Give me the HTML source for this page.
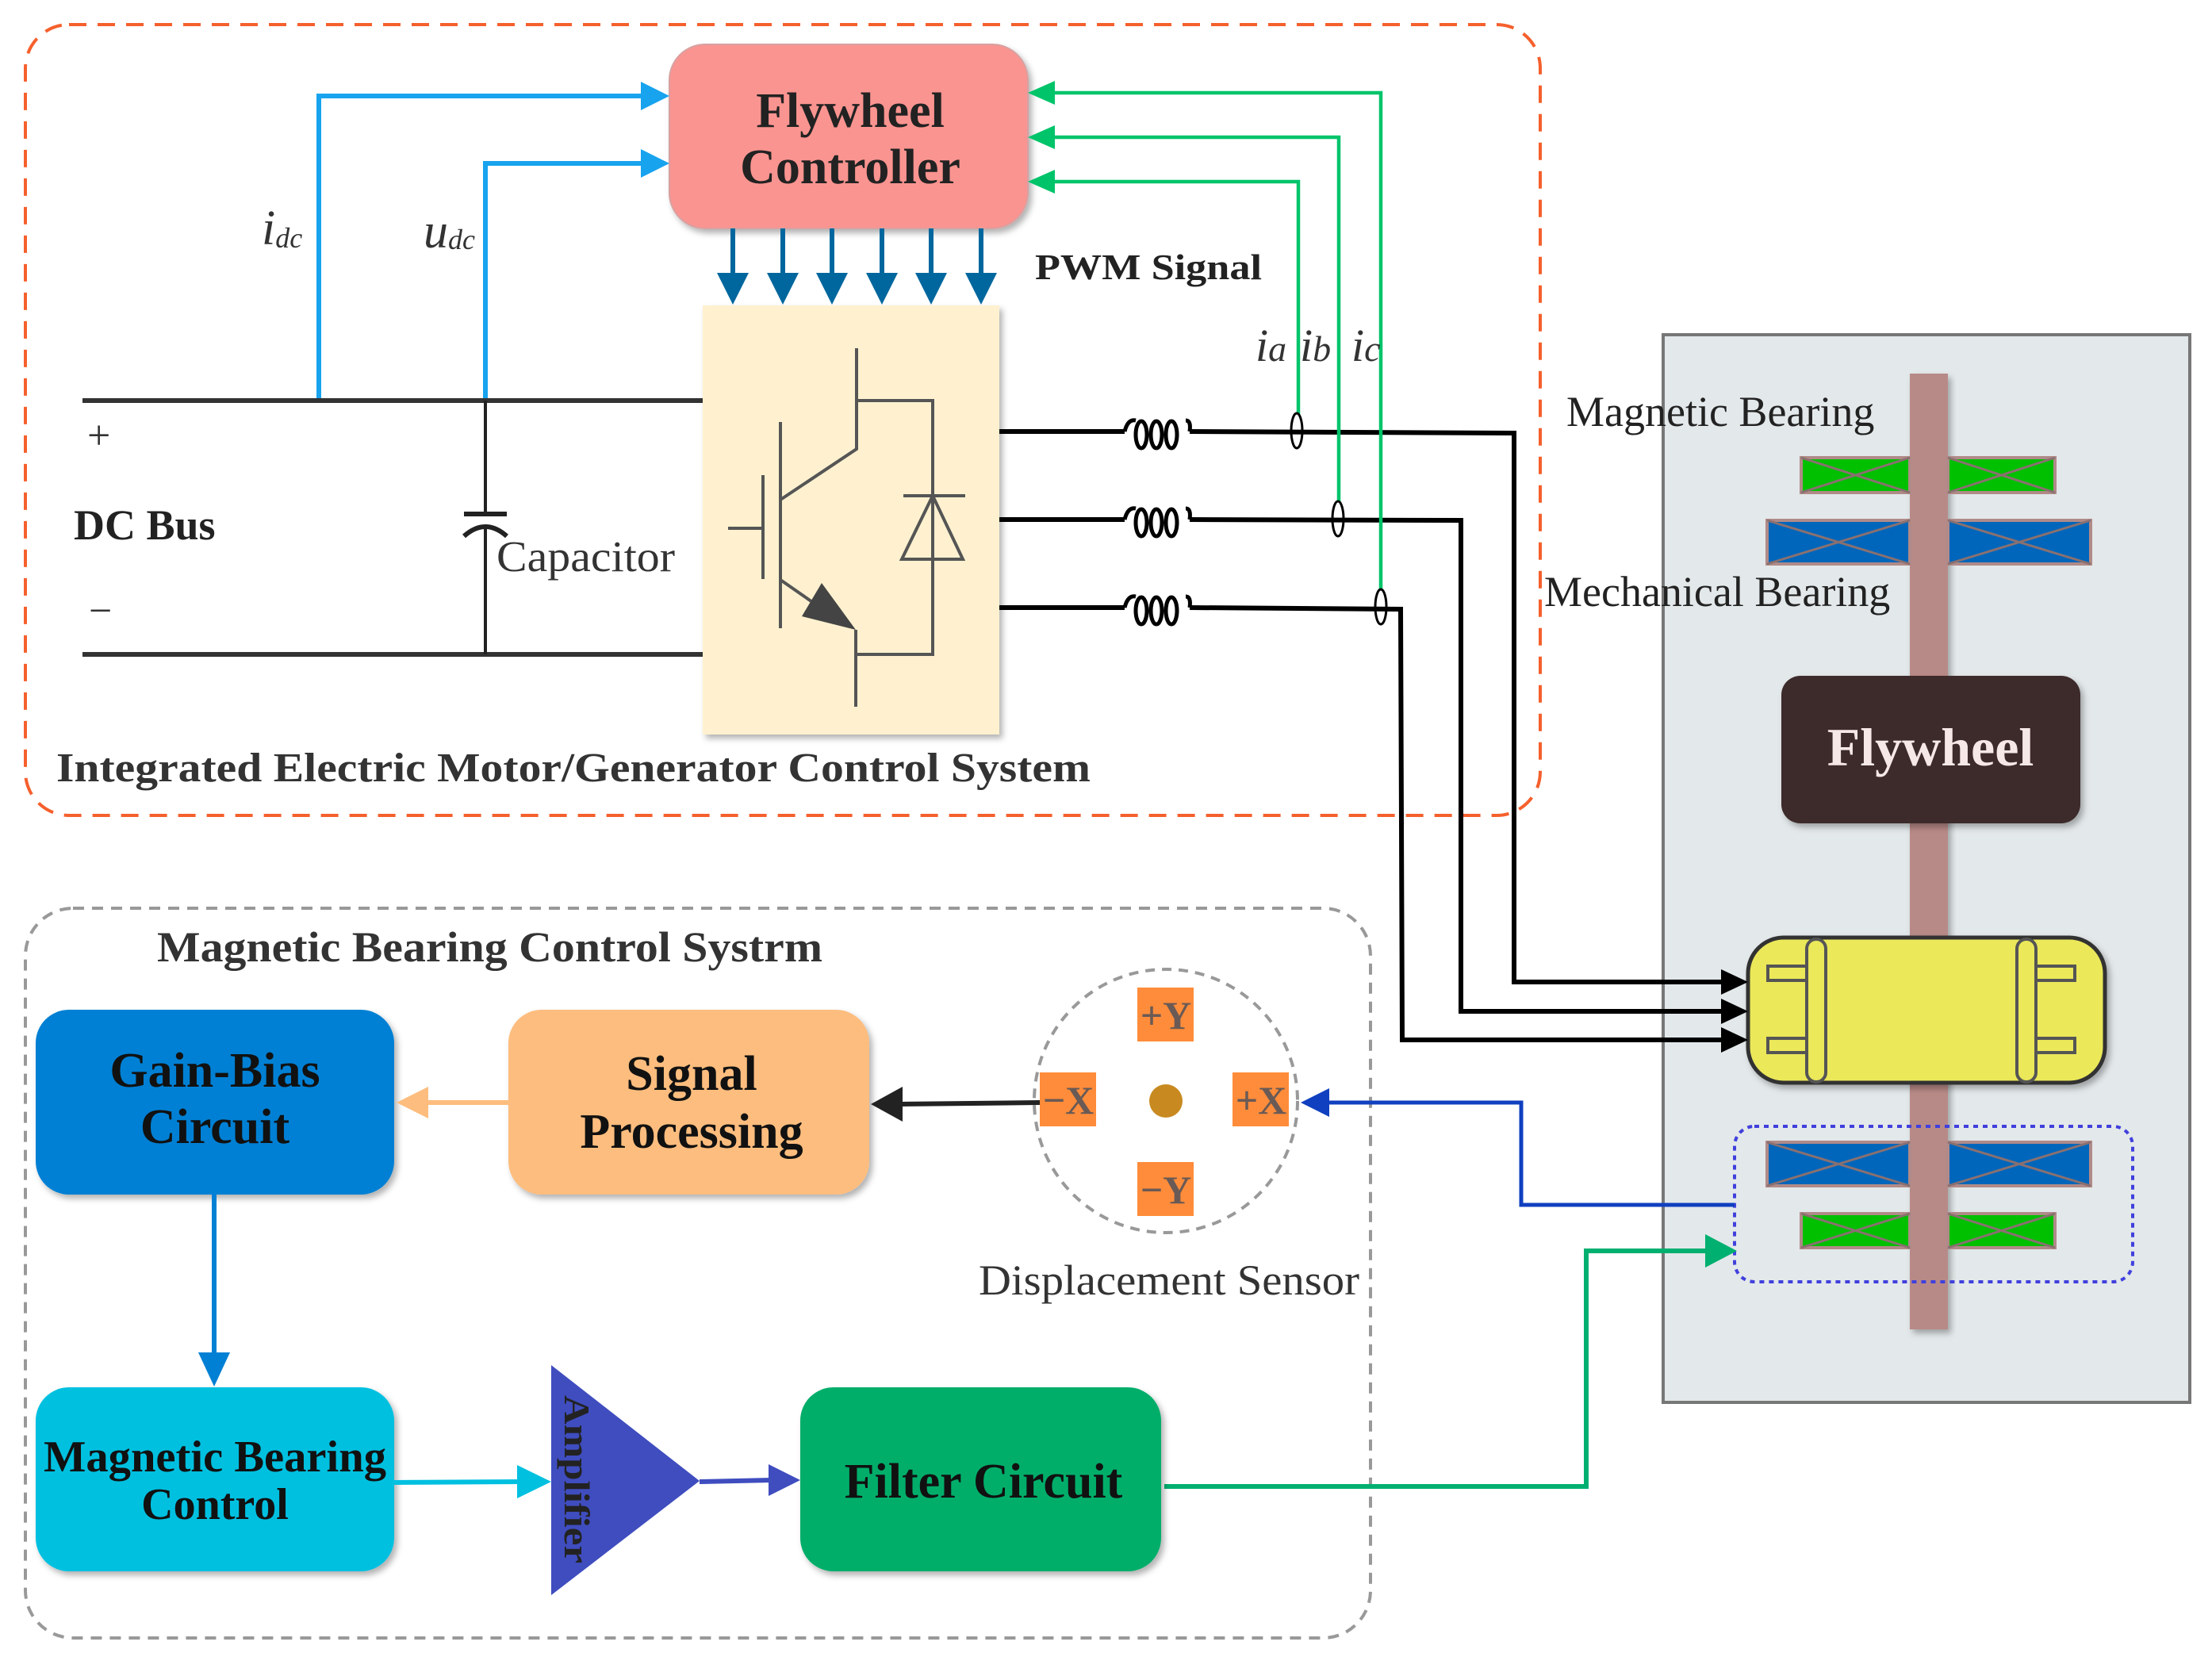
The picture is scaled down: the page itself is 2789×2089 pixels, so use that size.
<!DOCTYPE html>
<html><head><meta charset="utf-8"><style>html,body{margin:0;padding:0;background:#fff}svg{display:block}</style></head><body>
<svg width="2789" height="2089" viewBox="0 0 2789 2089" xmlns="http://www.w3.org/2000/svg" font-family="'Liberation Serif', serif">
<defs>
<filter id="sh" x="-10%" y="-10%" width="130%" height="130%"><feDropShadow dx="4" dy="5" stdDeviation="4" flood-color="#000" flood-opacity="0.3"/></filter>
</defs>
<rect x="32" y="31" width="1910" height="997" rx="55" fill="none" stroke="#f5602d" stroke-width="4" stroke-dasharray="22,14"/>
<rect x="32" y="1145" width="1696" height="920" rx="60" fill="none" stroke="#999" stroke-width="4" stroke-dasharray="14,10"/>

<rect x="844" y="56" width="452" height="232" rx="45" fill="#fa9490" stroke="#d9a0a0" stroke-width="2" filter="url(#sh)"/>
<text x="1072" y="160" font-size="62" font-weight="bold" text-anchor="middle" fill="#222">Flywheel</text>
<text x="1072" y="231" font-size="62" font-weight="bold" text-anchor="middle" fill="#222">Controller</text>

<g stroke="#18a3ee" stroke-width="6" fill="none">
<polyline points="402,505 402,121 812,121"/>
<polyline points="612,505 612,206 812,206"/>
</g>
<polygon points="844,121 808,103 808,139" fill="#18a3ee"/>
<polygon points="844,206 808,188 808,224" fill="#18a3ee"/>
<text x="330" y="308" font-size="62" font-style="italic" fill="#333">i<tspan font-size="36" dy="4">dc</tspan></text>
<text x="534" y="312" font-size="62" font-style="italic" fill="#333">u<tspan font-size="36" dy="2">dc</tspan></text>

<g stroke="#333" stroke-width="6">
<line x1="104" y1="505" x2="886" y2="505"/>
<line x1="104" y1="825" x2="886" y2="825"/>
</g>
<g stroke="#222" stroke-width="4" fill="none">
<line x1="612" y1="505" x2="612" y2="648"/>
<line x1="585" y1="648" x2="639" y2="648" stroke-width="6"/>
<path d="M585 676 Q612 652 639 676" stroke-width="6"/>
<line x1="612" y1="662" x2="612" y2="825"/>
</g>
<text x="110" y="566" font-size="52" fill="#333">+</text>
<text x="93" y="680" font-size="54" font-weight="bold" fill="#222">DC Bus</text>
<text x="112" y="787" font-size="52" fill="#333">−</text>
<text x="626" y="720" font-size="55" fill="#333" textLength="225" lengthAdjust="spacingAndGlyphs">Capacitor</text>

<rect x="886" y="385" width="374" height="541" fill="#fff1cf" filter="url(#sh)"/>
<g stroke="#555" stroke-width="4" fill="none">
<polyline points="1080,439 1080,566 984,630"/>
<polyline points="1080,505 1176,505 1176,825 1079,825"/>
<line x1="1079" y1="794" x2="1079" y2="891"/>
<line x1="984" y1="532" x2="984" y2="792"/>
<line x1="962" y1="599" x2="962" y2="730"/>
<line x1="918" y1="666" x2="962" y2="666"/>
<line x1="984" y1="731" x2="1040" y2="770"/>
<line x1="1139" y1="625" x2="1217" y2="625"/>
<polygon points="1176,625 1137,705 1214,705"/>
</g>
<polygon points="1036,735 1011,777 1079,794" fill="#444"/>

<g stroke="#00679e" stroke-width="6">
<line x1="924" y1="288" x2="924" y2="350"/><line x1="987" y1="288" x2="987" y2="350"/>
<line x1="1049" y1="288" x2="1049" y2="350"/><line x1="1112" y1="288" x2="1112" y2="350"/>
<line x1="1174" y1="288" x2="1174" y2="350"/><line x1="1237" y1="288" x2="1237" y2="350"/>
</g>
<g fill="#00679e">
<polygon points="904,344 944,344 924,384"/><polygon points="967,344 1007,344 987,384"/>
<polygon points="1029,344 1069,344 1049,384"/><polygon points="1092,344 1132,344 1112,384"/>
<polygon points="1154,344 1194,344 1174,384"/><polygon points="1217,344 1257,344 1237,384"/>
</g>
<text x="1305" y="352" font-size="46" font-weight="bold" fill="#222" textLength="286" lengthAdjust="spacingAndGlyphs">PWM Signal</text>

<rect x="2097" y="422" width="664" height="1346" fill="#e3e8ea" stroke="#777" stroke-width="4"/>
<rect x="2408" y="471" width="48" height="1205" fill="#b88a87" filter="url(#sh)"/>
<g stroke="#b08a88" stroke-width="4">
<rect x="2271" y="577" width="137" height="44" fill="#00c000"/><rect x="2456" y="577" width="135" height="44" fill="#00c000"/>
<rect x="2228" y="656" width="180" height="55" fill="#0066bb"/><rect x="2456" y="656" width="180" height="55" fill="#0066bb"/>
<rect x="2228" y="1440" width="180" height="55" fill="#0066bb"/><rect x="2456" y="1440" width="180" height="55" fill="#0066bb"/>
<rect x="2271" y="1530" width="137" height="43" fill="#00c000"/><rect x="2456" y="1530" width="135" height="43" fill="#00c000"/>
</g>
<g stroke="#8a7070" stroke-width="3">
<line x1="2271" y1="577" x2="2408" y2="621"/><line x1="2271" y1="621" x2="2408" y2="577"/>
<line x1="2456" y1="577" x2="2591" y2="621"/><line x1="2456" y1="621" x2="2591" y2="577"/>
<line x1="2228" y1="656" x2="2408" y2="711"/><line x1="2228" y1="711" x2="2408" y2="656"/>
<line x1="2456" y1="656" x2="2636" y2="711"/><line x1="2456" y1="711" x2="2636" y2="656"/>
<line x1="2228" y1="1440" x2="2408" y2="1495"/><line x1="2228" y1="1495" x2="2408" y2="1440"/>
<line x1="2456" y1="1440" x2="2636" y2="1495"/><line x1="2456" y1="1495" x2="2636" y2="1440"/>
<line x1="2271" y1="1530" x2="2408" y2="1573"/><line x1="2271" y1="1573" x2="2408" y2="1530"/>
<line x1="2456" y1="1530" x2="2591" y2="1573"/><line x1="2456" y1="1573" x2="2591" y2="1530"/>
</g>
<text x="1975" y="537" font-size="54" fill="#222">Magnetic Bearing</text>
<text x="1947" y="764" font-size="54" fill="#222">Mechanical Bearing</text>
<rect x="2246" y="852" width="377" height="186" rx="24" fill="#3d2a2a" filter="url(#sh)"/>
<text x="2434" y="965" font-size="68" font-weight="bold" text-anchor="middle" fill="#f7e8e8">Flywheel</text>
<rect x="2204" y="1182" width="450" height="183" rx="45" fill="#ebe85a" stroke="#333" stroke-width="5" filter="url(#sh)"/>
<g stroke="#555" stroke-width="4" fill="#ebe85a">
<rect x="2278" y="1184" width="24" height="180" rx="12"/><rect x="2543" y="1184" width="24" height="180" rx="12"/>
<rect x="2229" y="1218" width="49" height="18"/><rect x="2229" y="1309" width="49" height="18"/>
<rect x="2567" y="1218" width="49" height="18"/><rect x="2567" y="1309" width="49" height="18"/>
</g>
<rect x="2187" y="1420" width="502" height="196" rx="25" fill="none" stroke="#4040dd" stroke-width="4" stroke-dasharray="6,6"/>

<g stroke="#000" stroke-width="6" fill="none">
<polyline points="1260,544 1418,544"/><polyline points="1500,544 1909,546 1909,1238 2172,1238"/>
<polyline points="1260,655 1418,655"/><polyline points="1500,655 1842,656 1842,1275 2172,1275"/>
<polyline points="1260,766 1418,766"/><polyline points="1500,766 1766,768 1768,1311 2172,1311"/>
</g>
<g fill="#000">
<polygon points="2204,1238 2170,1222 2170,1254"/><polygon points="2204,1275 2170,1259 2170,1291"/><polygon points="2204,1311 2170,1295 2170,1327"/>
</g>
<g stroke="#000" stroke-width="5" fill="none">
<path d="M1418 544 Q1422 528 1432 530 M1495 530 Q1502 530 1500 544"/>
<ellipse cx="1439" cy="548" rx="7" ry="17"/><ellipse cx="1458" cy="548" rx="7" ry="17"/><ellipse cx="1477" cy="548" rx="7" ry="17"/>
<path d="M1418 655 Q1422 639 1432 641 M1495 641 Q1502 641 1500 655"/>
<ellipse cx="1439" cy="659" rx="7" ry="17"/><ellipse cx="1458" cy="659" rx="7" ry="17"/><ellipse cx="1477" cy="659" rx="7" ry="17"/>
<path d="M1418 766 Q1422 750 1432 752 M1495 752 Q1502 752 1500 766"/>
<ellipse cx="1439" cy="770" rx="7" ry="17"/><ellipse cx="1458" cy="770" rx="7" ry="17"/><ellipse cx="1477" cy="770" rx="7" ry="17"/>
</g>
<g stroke="#00c46a" stroke-width="4.5" fill="none">
<polyline points="1637,522 1637,229 1328,229"/>
<polyline points="1688,632 1688,173 1328,173"/>
<polyline points="1741,744 1741,117 1328,117"/>
</g>
<g fill="#00c46a">
<polygon points="1296,117 1330,102 1330,132"/><polygon points="1296,173 1330,158 1330,188"/><polygon points="1296,229 1330,214 1330,244"/>
</g>
<g stroke="#000" stroke-width="3" fill="none">
<ellipse cx="1635" cy="543" rx="7" ry="22"/><ellipse cx="1687" cy="654" rx="7" ry="22"/><ellipse cx="1741" cy="765" rx="7" ry="22"/>
</g>
<text x="1583" y="455" font-size="58" font-style="italic" fill="#333">i<tspan font-size="46">a</tspan></text>
<text x="1639" y="455" font-size="58" font-style="italic" fill="#333">i<tspan font-size="46">b</tspan></text>
<text x="1704" y="455" font-size="58" font-style="italic" fill="#333">i<tspan font-size="46">c</tspan></text>

<text x="71" y="985" font-size="52" font-weight="bold" fill="#333" textLength="1304" lengthAdjust="spacingAndGlyphs">Integrated Electric Motor/Generator Control System</text>

<polyline points="2187,1519 1918,1519 1918,1390 1675,1390" fill="none" stroke="#1040c0" stroke-width="5"/>
<polygon points="1640,1390 1676,1372 1676,1408" fill="#1040c0"/>
<polyline points="1468,1874 2000,1874 2000,1577 2152,1577" fill="none" stroke="#00b070" stroke-width="6"/>
<polygon points="2190,1577 2150,1556 2150,1598" fill="#00b070"/>

<circle cx="1470" cy="1388" r="166" fill="none" stroke="#999" stroke-width="4" stroke-dasharray="12,9"/>
<g fill="#ff8c3a">
<rect x="1434" y="1245" width="71" height="68"/><rect x="1434" y="1465" width="71" height="68"/>
<rect x="1311" y="1352" width="71" height="68"/><rect x="1554" y="1352" width="71" height="68"/>
</g>
<circle cx="1470" cy="1388" r="21" fill="#c88a20"/>
<g font-size="50" font-weight="bold" fill="#6a5a55" text-anchor="middle">
<text x="1470" y="1297">+Y</text><text x="1470" y="1517">−Y</text><text x="1347" y="1404">−X</text><text x="1590" y="1404">+X</text>
</g>
<text x="1234" y="1632" font-size="54" fill="#333" textLength="480" lengthAdjust="spacingAndGlyphs">Displacement Sensor</text>

<text x="198" y="1212" font-size="54" font-weight="bold" fill="#333" textLength="839" lengthAdjust="spacingAndGlyphs">Magnetic Bearing Control Systrm</text>
<rect x="45" y="1273" width="452" height="233" rx="42" fill="#0080d4" filter="url(#sh)"/>
<text x="271" y="1370" font-size="62" font-weight="bold" text-anchor="middle" fill="#111">Gain-Bias</text>
<text x="271" y="1441" font-size="62" font-weight="bold" text-anchor="middle" fill="#111">Circuit</text>
<rect x="641" y="1273" width="455" height="233" rx="42" fill="#fdbd7e" filter="url(#sh)"/>
<text x="872" y="1374" font-size="62" font-weight="bold" text-anchor="middle" fill="#111">Signal</text>
<text x="872" y="1447" font-size="62" font-weight="bold" text-anchor="middle" fill="#111">Processing</text>
<line x1="641" y1="1390" x2="535" y2="1390" stroke="#fdbd7e" stroke-width="6"/>
<polygon points="500,1390 540,1370 540,1410" fill="#fdbd7e"/>
<line x1="1311" y1="1390" x2="1135" y2="1392" stroke="#222" stroke-width="6"/>
<polygon points="1098,1392 1138,1370 1138,1414" fill="#222"/>
<line x1="270" y1="1506" x2="270" y2="1710" stroke="#0080d4" stroke-width="6"/>
<polygon points="250,1705 290,1705 270,1748" fill="#0080d4"/>
<rect x="45" y="1749" width="452" height="232" rx="42" fill="#00c0e0" filter="url(#sh)"/>
<text x="271" y="1855" font-size="56" font-weight="bold" text-anchor="middle" fill="#111" textLength="432" lengthAdjust="spacingAndGlyphs">Magnetic Bearing</text>
<text x="271" y="1915" font-size="56" font-weight="bold" text-anchor="middle" fill="#111">Control</text>
<line x1="497" y1="1869" x2="655" y2="1868" stroke="#00c0e0" stroke-width="6"/>
<polygon points="695,1868 652,1847 652,1889" fill="#00c0e0"/>
<polygon points="695,1721 695,2011 882,1867" fill="#3f4dbf"/>
<text transform="translate(712,1759) rotate(90)" font-size="46" font-weight="bold" fill="#222" textLength="212" lengthAdjust="spacingAndGlyphs">Amplifier</text>
<line x1="882" y1="1868" x2="972" y2="1866" stroke="#3f4dbf" stroke-width="6"/>
<polygon points="1009,1866 969,1846 969,1886" fill="#3f4dbf"/>
<rect x="1009" y="1749" width="455" height="232" rx="42" fill="#00ae6a" filter="url(#sh)"/>
<text x="1240" y="1888" font-size="62" font-weight="bold" text-anchor="middle" fill="#111">Filter Circuit</text>
</svg>
</body></html>
